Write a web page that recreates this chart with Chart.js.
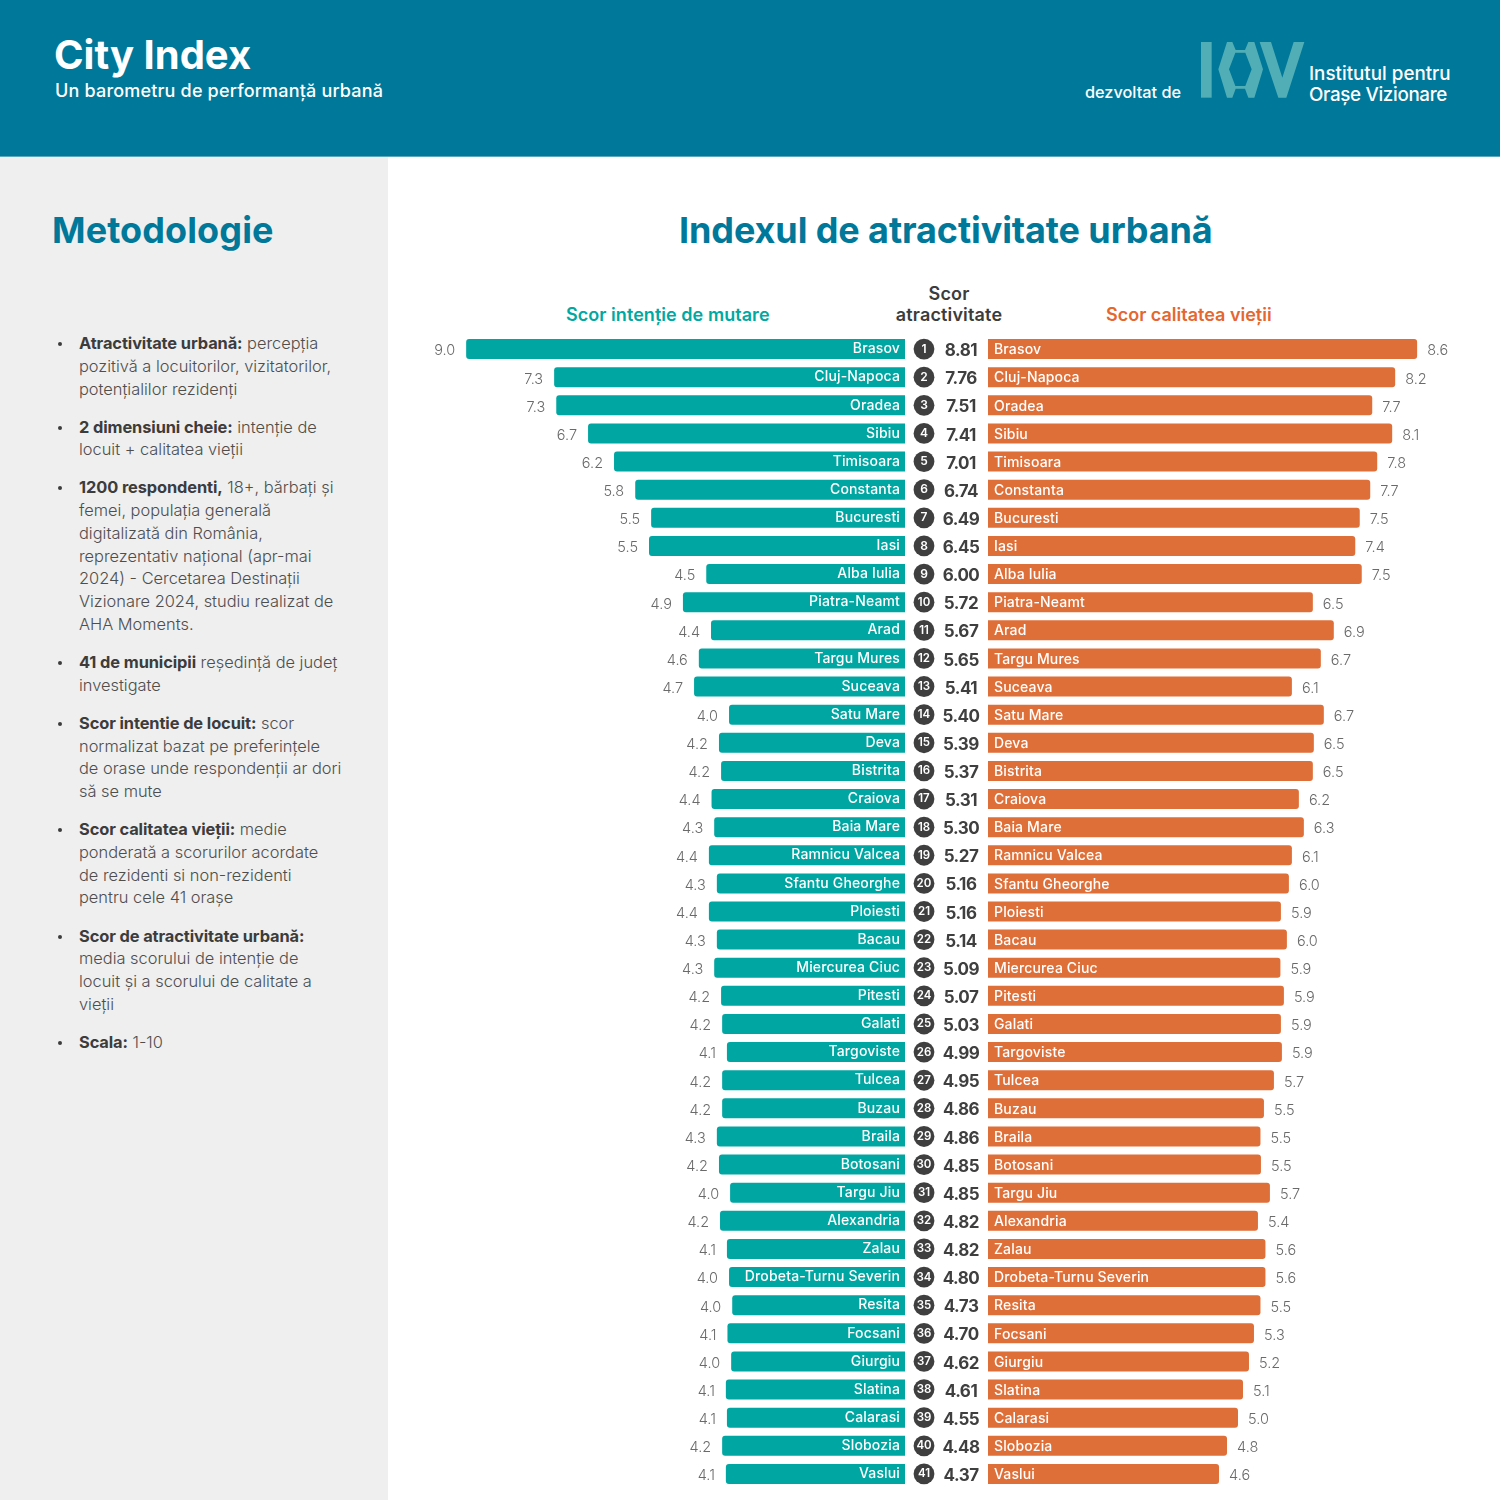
<!DOCTYPE html>
<html lang="ro">
<head>
<meta charset="utf-8">
<title>City Index</title>
<script src="https://cdn.jsdelivr.net/npm/chart.js@4"></script>
<style>
    * { margin: 0; padding: 0; box-sizing: border-box; }
    html, body { width: 1500px; height: 1500px; background: #fff; overflow: hidden; font-family: Inter, sans-serif; }
    .abs { position: absolute; white-space: nowrap; }
    #header { position: absolute; left: 0; top: 0; width: 1500px; height: 157px; background: #00789a; border-bottom: 1px solid #5aa6bd; }
    #sidebar { position: absolute; left: 0; top: 157px; width: 388px; height: 1343px; background: #efefef; }
    #notes { position: absolute; left: 58px; top: 332px; list-style: none; font-size: 16.4px; line-height: 22.75px; font-weight: 300; color: #4e4e4e; white-space: nowrap; }
    #notes li { position: relative; padding-left: 21px; margin-bottom: 15.35px; }
    #notes li::before { content: ""; position: absolute; left: 0; top: 10px; width: 4px; height: 4px; border-radius: 50%; background: #3c3c3c; }
    #notes b { font-weight: 700; color: #3c3c3c; letter-spacing: -0.1px; }
    canvas { position: absolute; }
</style>
</head>
<body>
<div id="header"></div>
<div id="sidebar"></div>

<div class="abs" style="left:54px;top:31px;font-size:40px;line-height:48px;font-weight:700;color:#fff">City Index</div>
<div class="abs" style="left:55px;top:79px;font-size:18px;line-height:24px;font-weight:500;color:#fff;letter-spacing:0.18px">Un barometru de performanță urbană</div>
<div class="abs" style="left:1085px;top:82px;font-size:16.3px;line-height:20px;font-weight:500;color:#fff">dezvoltat de</div>
<svg class="abs" style="left:1195px;top:36px" width="115" height="68" viewBox="0 0 345 204">
    <path fill="#52aeb6" d="M18 18H50V185H18Z"/>
    <path fill="#52aeb6" fill-rule="evenodd" d="M96 18H112L122 42H150L160 18H178L204 100L178 185H160L150 158H122L112 185H96L70 100ZM121 50L102 100L121 150H151L170 100L151 50Z"/>
    <path fill="#52aeb6" d="M194 18H228L262 125L296 18H328L274 185H250Z"/>
</svg>
<div class="abs" style="left:1309px;top:63px;font-size:18.8px;line-height:21px;font-weight:500;color:#fff">Institutul pentru<br><span style="letter-spacing:-0.33px">Orașe Vizionare</span></div>

<div class="abs" style="left:52px;top:208px;font-size:36px;line-height:44px;font-weight:700;color:#00789a;letter-spacing:0.1px">Metodologie</div>
<ul id="notes">
    <li><b>Atractivitate urbană:</b> percepția<br>pozitivă a locuitorilor, vizitatorilor,<br>potențialilor rezidenți</li>
    <li><b>2 dimensiuni cheie:</b> intenție de<br>locuit + calitatea vieții</li>
    <li><b>1200 respondenti,</b> 18+, bărbați și<br>femei, populația generală<br>digitalizată din România,<br>reprezentativ național (apr-mai<br>2024) - Cercetarea Destinații<br>Vizionare 2024, studiu realizat de<br>AHA Moments.</li>
    <li><b>41 de municipii</b> reședință de județ<br>investigate</li>
    <li><b>Scor intentie de locuit:</b> scor<br>normalizat bazat pe preferințele<br>de orase unde respondenții ar dori<br>să se mute</li>
    <li><b>Scor calitatea vieții:</b> medie<br>ponderată a scorurilor acordate<br>de rezidenti si non-rezidenti<br>pentru cele 41 orașe</li>
    <li><b>Scor de atractivitate urbană:</b><br>media scorului de intenție de<br>locuit și a scorului de calitate a<br>vieții</li>
    <li><b>Scala:</b> 1-10</li>
</ul>

<div class="abs" style="left:679px;top:208px;font-size:36px;line-height:44px;font-weight:700;color:#00789a;letter-spacing:-0.1px">Indexul de atractivitate urbană</div>
<div class="abs" style="left:566px;top:304px;font-size:18px;line-height:22px;font-weight:600;color:#00a8a2;letter-spacing:0.05px">Scor intenție de mutare</div>
<div class="abs" style="left:849px;width:200px;top:284px;font-size:18px;line-height:20.5px;font-weight:600;color:#3c3c3c;text-align:center;letter-spacing:0.15px">Scor<br>atractivitate</div>
<div class="abs" style="left:1106px;top:304px;font-size:18px;line-height:22px;font-weight:600;color:#e5662f">Scor calitatea vieții</div>

<canvas id="intentChart" width="505" height="1153" style="left:400px;top:335px"></canvas>
<canvas id="rankChart" width="83" height="1153" style="left:905px;top:335px"></canvas>
<canvas id="qualityChart" width="512" height="1153" style="left:988px;top:335px"></canvas>

<script>
const cities = ['Brasov', 'Cluj-Napoca', 'Oradea', 'Sibiu', 'Timisoara', 'Constanta', 'Bucuresti', 'Iasi', 'Alba Iulia', 'Piatra-Neamt',
    'Arad', 'Targu Mures', 'Suceava', 'Satu Mare', 'Deva', 'Bistrita', 'Craiova', 'Baia Mare', 'Ramnicu Valcea', 'Sfantu Gheorghe',
    'Ploiesti', 'Bacau', 'Miercurea Ciuc', 'Pitesti', 'Galati', 'Targoviste', 'Tulcea', 'Buzau', 'Braila', 'Botosani',
    'Targu Jiu', 'Alexandria', 'Zalau', 'Drobeta-Turnu Severin', 'Resita', 'Focsani', 'Giurgiu', 'Slatina', 'Calarasi', 'Slobozia', 'Vaslui'];

const intentScores = [8.99, 7.33, 7.29, 6.69, 6.20, 5.80, 5.50, 5.54, 4.46, 4.90,
    4.37, 4.60, 4.69, 4.03, 4.22, 4.18, 4.36, 4.31, 4.41, 4.26,
    4.41, 4.26, 4.31, 4.18, 4.16, 4.07, 4.16, 4.16, 4.26, 4.22,
    4.01, 4.20, 4.07, 4.03, 3.97, 4.06, 3.99, 4.09, 4.07, 4.16, 4.09];

const qualityScores = [8.60, 8.16, 7.70, 8.10, 7.80, 7.66, 7.45, 7.36, 7.49, 6.51,
    6.93, 6.67, 6.09, 6.73, 6.53, 6.51, 6.23, 6.33, 6.09, 6.03,
    5.87, 5.99, 5.86, 5.93, 5.87, 5.89, 5.73, 5.53, 5.46, 5.47,
    5.65, 5.41, 5.56, 5.56, 5.46, 5.33, 5.23, 5.11, 5.01, 4.79, 4.63];

const attractScores = ['8.81', '7.76', '7.51', '7.41', '7.01', '6.74', '6.49', '6.45', '6.00', '5.72',
    '5.67', '5.65', '5.41', '5.40', '5.39', '5.37', '5.31', '5.30', '5.27', '5.16',
    '5.16', '5.14', '5.09', '5.07', '5.03', '4.99', '4.95', '4.86', '4.86', '4.85',
    '4.85', '4.82', '4.82', '4.80', '4.73', '4.70', '4.62', '4.61', '4.55', '4.48', '4.37'];

const TEAL = '#00a6a2';
const ORANGE = '#df6f38';
const DARK = '#3f3f3f';

// city name inside the bar, score just past the tip
const barLabels = {
    id: 'barLabels',
    afterDatasetsDraw(chart, args, opts) {
        const ctx = chart.ctx;
        const area = chart.chartArea;
        const bars = chart.getDatasetMeta(0).data;
        const values = chart.data.datasets[0].data;
        ctx.save();
        ctx.textBaseline = 'middle';
        ctx.textAlign = opts.left ? 'right' : 'left';
        bars.forEach((bar, i) => {
            ctx.fillStyle = '#fff';
            ctx.font = '500 14px Inter';
            ctx.letterSpacing = '0.15px';
            ctx.fillText(chart.data.labels[i], opts.left ? area.right - 5 : area.left + 6, bar.y + (opts.left ? 0 : 1));
            ctx.fillStyle = '#6a6a6a';
            ctx.font = '300 14.5px Inter';
            ctx.letterSpacing = '0px';
            ctx.fillText(values[i].toFixed(1), bar.x + (opts.left ? -11 : 10), bar.y + 2);
        });
        ctx.restore();
    }
};

// rank number in the circle and the overall score beside it
const rankLabels = {
    id: 'rankLabels',
    afterDatasetsDraw(chart) {
        const ctx = chart.ctx;
        ctx.save();
        ctx.textBaseline = 'middle';
        ctx.textAlign = 'center';
        chart.getDatasetMeta(0).data.forEach((pt, i) => {
            ctx.fillStyle = '#fff';
            ctx.font = '600 ' + (i < 9 ? 12 : 11.5) + 'px Inter';
            ctx.letterSpacing = '0px';
            ctx.fillText(String(i + 1), pt.x, pt.y);
            ctx.fillStyle = DARK;
            ctx.font = '700 17px Inter';
            ctx.letterSpacing = '-0.5px';
            ctx.fillText(attractScores[i], pt.x + 37, pt.y + 2);
        });
        ctx.restore();
    }
};

function barOptions(reverse, min, max, left) {
    return {
        indexAxis: 'y',
        responsive: false,
        animation: false,
        layout: { padding: 0, autoPadding: false },
        scales: {
            x: { type: 'linear', display: false, reverse: reverse, min: min, max: max },
            y: { type: 'category', display: false }
        },
        plugins: {
            legend: { display: false },
            tooltip: { enabled: false },
            barLabels: { left: left }
        }
    };
}

new Chart(document.getElementById('intentChart').getContext('2d'), {
    type: 'bar',
    data: {
        labels: cities,
        datasets: [{
            data: intentScores,
            backgroundColor: TEAL,
            barThickness: 20,
            borderRadius: 3,
            inflateAmount: 0
        }]
    },
    options: barOptions(true, 0.71, 0.71 + 505 / 53, true),
    plugins: [barLabels]
});

new Chart(document.getElementById('qualityChart').getContext('2d'), {
    type: 'bar',
    data: {
        labels: cities,
        datasets: [{
            data: qualityScores,
            backgroundColor: ORANGE,
            barThickness: 20,
            borderRadius: 3,
            inflateAmount: 0
        }]
    },
    options: barOptions(false, 0, 512 / 49.9, false),
    plugins: [barLabels]
});

new Chart(document.getElementById('rankChart').getContext('2d'), {
    type: 'scatter',
    data: {
        datasets: [{
            data: cities.map((c, i) => ({ x: 0, y: i + 1 })),
            backgroundColor: DARK,
            borderWidth: 0,
            pointRadius: 10.4
        }]
    },
    options: {
        responsive: false,
        animation: false,
        layout: { padding: 0, autoPadding: false },
        scales: {
            x: { type: 'linear', display: false, min: -19, max: 64 },
            y: { type: 'linear', display: false, reverse: true, min: 0.5, max: 41.5 }
        },
        plugins: { legend: { display: false }, tooltip: { enabled: false } }
    },
    plugins: [rankLabels]
});
</script>
</body>
</html>
